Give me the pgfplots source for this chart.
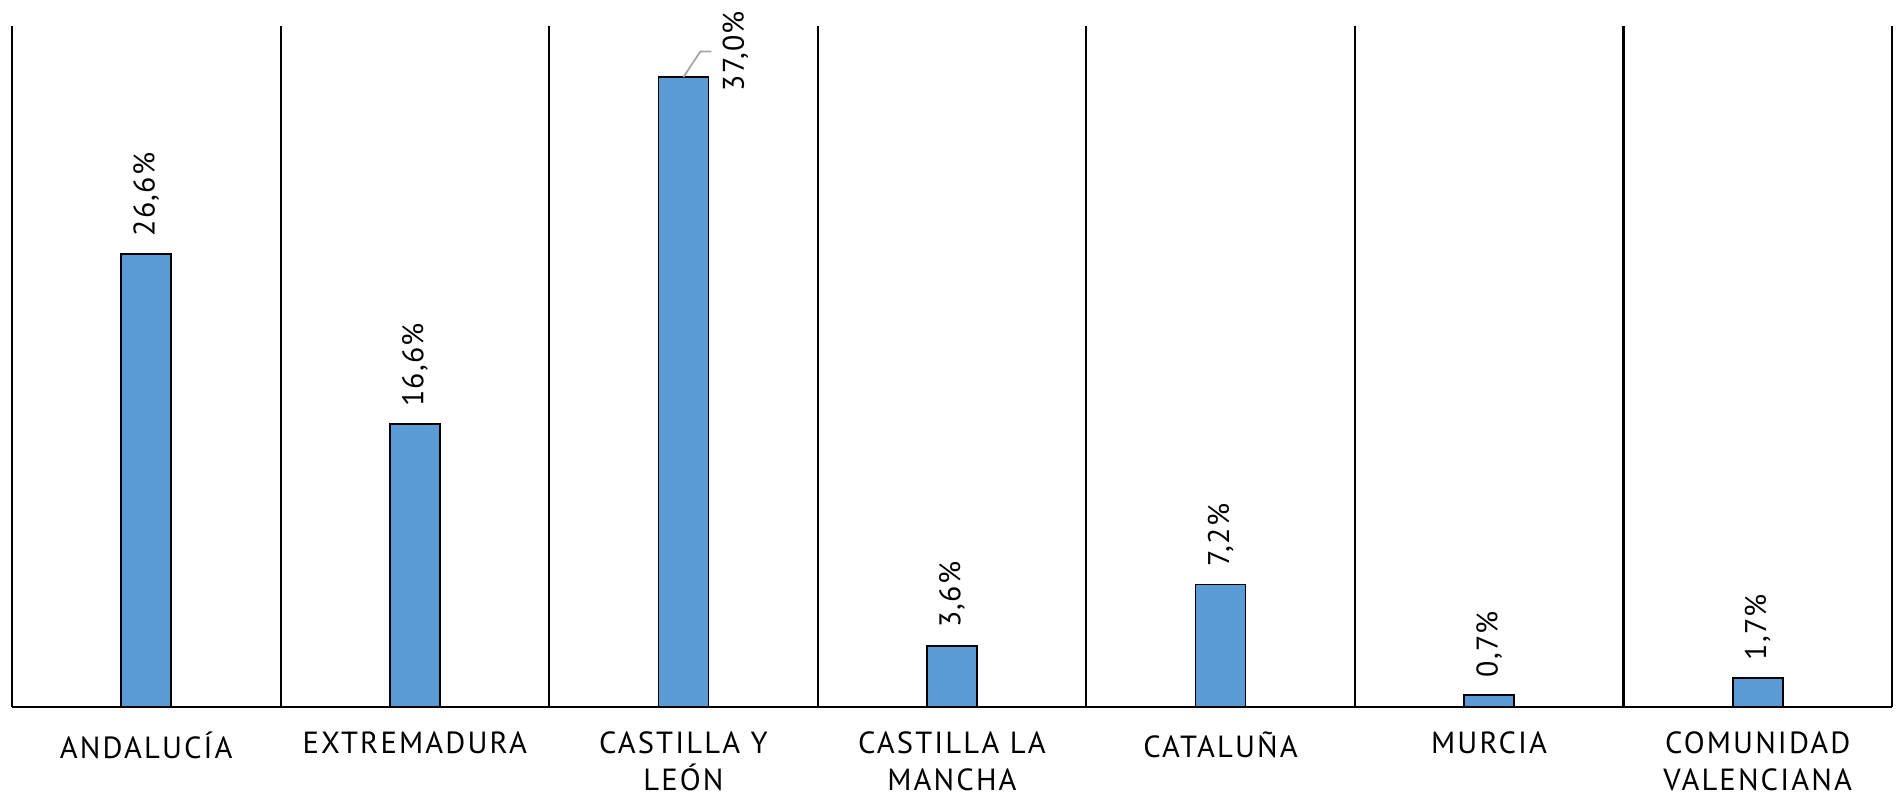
\documentclass[border=0pt]{standalone}
\usepackage{pgfplots}
\usepackage{pgfplotstable}
\pgfplotsset{compat=1.18}
\usepackage{fontspec}
\setmainfont[LetterSpace=4]{PT Sans}
\newfontfamily\catfont[LetterSpace=7]{PT Sans}
\definecolor{barblue}{RGB}{91,155,213}
\definecolor{leader}{RGB}{165,165,165}
\pgfplotstableread{
x y sx sy
0 26.6 0 0.17
1 16.6 0 0.17
2 37.0 0.52 -0.15
3 3.6 0 0.17
4 7.2 0 0.17
5 0.7 0 0.17
6 1.7 0 0.17
}\datatable
\begin{document}
\begin{tikzpicture}
\begin{axis}[
  scale only axis,
  width=18.80cm, height=6.81cm,
  xmin=-0.5, xmax=6.5, ymin=0, ymax=40,
  clip=false,
  axis line style={draw=none},
  ytick=\empty,
  xtick={0,1,2,3,4,5,6},
  xticklabels={ANDALUCÍA, EXTREMADURA, {CASTILLA Y\\LEÓN}, {CASTILLA LA\\MANCHA}, CATALUÑA, MURCIA, {COMUNIDAD\\VALENCIANA}},
  xticklabel style={align=center, inner sep=0pt, anchor=north, yshift=-0.24cm, font=\catfont\fontsize{8.7}{10.5}\selectfont},
  major tick length=0pt,
  extra x ticks={-0.5,0.5,1.5,2.5,3.5,4.5,5.5,6.5},
  extra x tick labels={},
  extra x tick style={grid=major, major grid style={black, line width=0.6pt}},
  /pgf/number format/assume math mode=true,
]
\addplot[ybar, bar width=0.50cm, bar shift=0pt, fill=barblue, draw=black, line width=0.5pt,
  visualization depends on={\thisrow{sx} \as \sx},
  visualization depends on={\thisrow{sy} \as \sy},
  nodes near coords={\pgfmathprintnumber[fixed, fixed zerofill, precision=1, use comma]{\pgfplotspointmeta}\%},
  nodes near coords style={xshift=\sx cm, yshift=\sy cm, rotate=90, anchor=west, inner sep=0pt, font=\fontsize{8.5}{10}\selectfont, text=black},
] table[x=x, y=y] {\datatable};
\draw[leader, line width=0.5pt] (axis cs:2,37) -- (axis cs:2.063,38.5) -- (axis cs:2.104,38.5);
\draw[black, line width=0.6pt] (rel axis cs:0,0) -- (rel axis cs:1,0);
\end{axis}
\pgfresetboundingbox
\path ([shift={(-0.12cm,-0.97cm)}]current axis.south west) rectangle ([shift={(0.04cm,0.26cm)}]current axis.north east);
\end{tikzpicture}
\end{document}
